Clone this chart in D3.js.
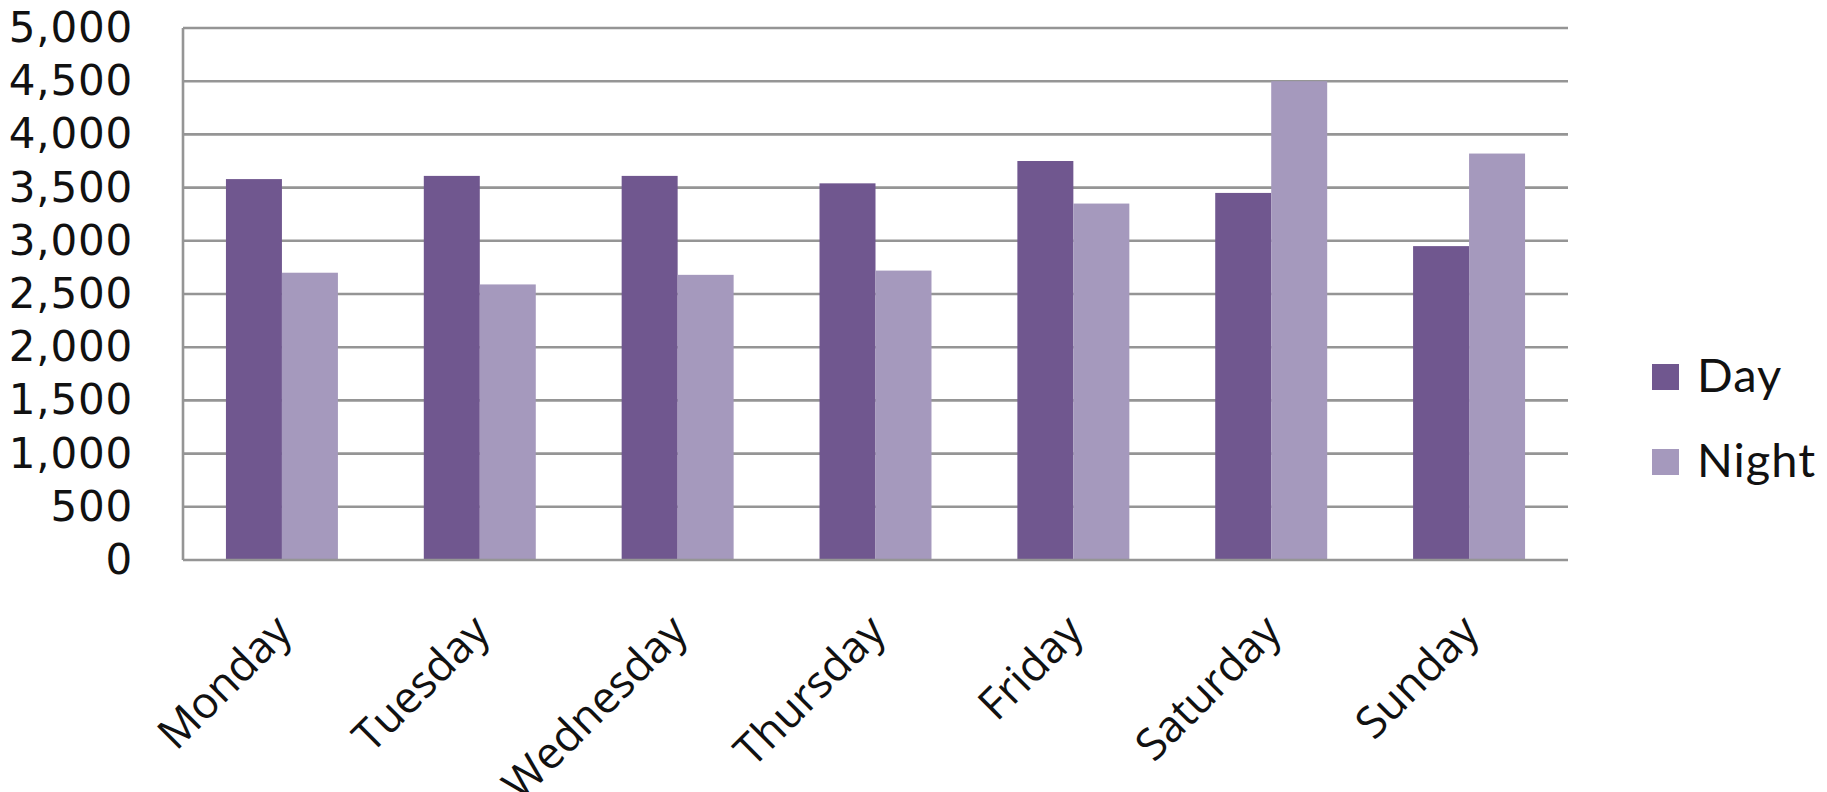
<!DOCTYPE html>
<html>
<head>
<meta charset="utf-8">
<script src="https://cdn.jsdelivr.net/npm/d3@7"></script>
<style>
  body { margin: 0; background: #fff; }
</style>
</head>
<body>
<div id="chart"></div>
<script>
// data
var days = ["Monday", "Tuesday", "Wednesday", "Thursday", "Friday", "Saturday", "Sunday"];
var series = ["Day", "Night"];
var dayValues = [3580, 3610, 3610, 3540, 3750, 3450, 2950];
var nightValues = [2700, 2590, 2680, 2720, 3350, 4500, 3820];
var yTicks = [0, 500, 1000, 1500, 2000, 2500, 3000, 3500, 4000, 4500, 5000];
var colors = ["#70578f", "#a599bd"];

function drawBarChart(){
    var width = 1827, height = 792;
    var left = 183, right = 1568, top = 28, bottom = 560;

    var svg = d3.select("#chart").append("svg")
        .attr("width", width)
        .attr("height", height);

    var x0 = d3.scaleBand().domain(days).range([left, right]).padding(0);
    var x1 = d3.scaleBand().domain(series).range([0, x0.bandwidth()])
        .paddingInner(0).paddingOuter(0.767);
    var y = d3.scaleLinear().domain([0, 5000]).range([bottom, top]);
    var color = d3.scaleOrdinal().domain(series).range(colors);

    // gridlines
    svg.append("g").selectAll("line")
        .data(yTicks.filter(function(d){ return d > 0; }))
        .enter().append("line")
        .attr("x1", left).attr("x2", right)
        .attr("y1", function(d){ return y(d); })
        .attr("y2", function(d){ return y(d); })
        .attr("stroke", "#959595")
        .attr("stroke-width", 2.6);

    // bars
    var rows = days.map(function(d, i){
        return {day: d, values: [dayValues[i], nightValues[i]]};
    });

    var groups = svg.append("g").selectAll("g")
        .data(rows)
        .enter().append("g")
        .attr("transform", function(d){ return "translate(" + x0(d.day) + ",0)"; });

    groups.selectAll("rect")
        .data(function(d){
            return series.map(function(s, j){ return {key: s, value: d.values[j]}; });
        })
        .enter().append("rect")
        .attr("x", function(d){ return x1(d.key); })
        .attr("width", x1.bandwidth())
        .attr("y", function(d){ return y(d.value); })
        .attr("height", function(d){ return bottom - y(d.value); })
        .attr("fill", function(d){ return color(d.key); });

    // axis lines
    svg.append("line")
        .attr("x1", left).attr("x2", left)
        .attr("y1", top).attr("y2", bottom)
        .attr("stroke", "#959595").attr("stroke-width", 2.6);
    svg.append("line")
        .attr("x1", left).attr("x2", right)
        .attr("y1", bottom).attr("y2", bottom)
        .attr("stroke", "#959595").attr("stroke-width", 2.6);

    // y axis labels
    var yAxis = d3.axisLeft(y)
        .tickValues(yTicks)
        .tickFormat(d3.format(","))
        .tickSize(0)
        .tickPadding(50);
    var ya = svg.append("g")
        .attr("transform", "translate(" + left + ",0)")
        .call(yAxis);
    ya.select(".domain").remove();
    ya.selectAll("text")
        .attr("font-family", "'DejaVu Sans', Verdana, sans-serif")
        .attr("font-size", 42)
        .attr("letter-spacing", 0.8)
        .attr("fill", "#111");

    // category labels
    svg.append("g").selectAll("text")
        .data(days)
        .enter().append("text")
        .attr("transform", function(d){
            var cx = x0(d) + x0.bandwidth() / 2 + 12;
            return "translate(" + cx + "," + (bottom + 74) + ") rotate(-45)";
        })
        .attr("text-anchor", "end")
        .attr("font-family", "'Open Sans', sans-serif")
        .attr("font-size", 44)
        .attr("fill", "#111")
        .text(function(d){ return d; });

    // legend
    var legend = svg.append("g").selectAll("g")
        .data(series)
        .enter().append("g")
        .attr("transform", function(d, i){ return "translate(1652," + (364 + i * 85) + ")"; });
    legend.append("rect")
        .attr("width", 27).attr("height", 26)
        .attr("fill", function(d){ return color(d); });
    legend.append("text")
        .attr("x", 45).attr("y", 28)
        .attr("font-family", "Lato, sans-serif")
        .attr("font-size", 47)
        .attr("letter-spacing", 1)
        .attr("fill", "#111")
        .text(function(d){ return d; });
}

drawBarChart();
</script>
</body>
</html>
